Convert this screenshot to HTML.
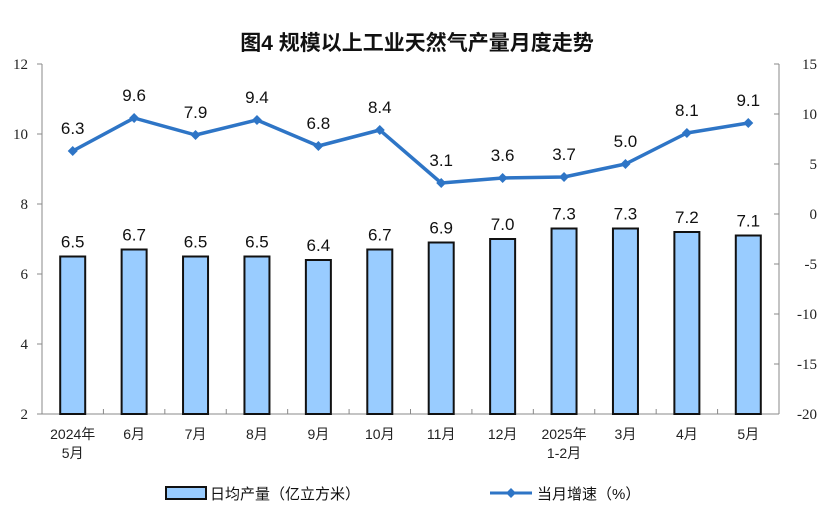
<!DOCTYPE html>
<html><head><meta charset="utf-8"><style>
body{margin:0;background:#fff;width:835px;height:520px;overflow:hidden}
svg text{font-family:"Liberation Sans","Noto Sans CJK SC",sans-serif}
.ax{font-family:"Liberation Serif","Noto Serif CJK SC",serif;font-size:15px;fill:#222}
</style></head><body>
<svg width="835" height="520">
<text x="417" y="50" text-anchor="middle" font-size="21" font-weight="bold" fill="#111">图4  规模以上工业天然气产量月度走势</text>
<g id="g"></g>
<g>
<rect x="166" y="487" width="40" height="12" fill="#99ccff" stroke="#111" stroke-width="2"/>
<text x="210" y="499" font-size="15" fill="#111">日均产量（亿立方米）</text>
<line x1="490" y1="493" x2="532" y2="493" stroke="#2e75c6" stroke-width="3"/>
<path d="M511 488 L516 493 L511 498 L506 493Z" fill="#2e75c6"/>
<text x="537" y="499" font-size="15" fill="#111">当月增速（%）</text>
</g>
</svg>
<script>
const categories=[["2024年","5月"],["6月"],["7月"],["8月"],["9月"],["10月"],["11月"],["12月"],["2025年","1-2月"],["3月"],["4月"],["5月"]];
const output=[6.5,6.7,6.5,6.5,6.4,6.7,6.9,7.0,7.3,7.3,7.2,7.1];
const growth=[6.3,9.6,7.9,9.4,6.8,8.4,3.1,3.6,3.7,5.0,8.1,9.1];
const leftTicks=[2,4,6,8,10,12];
const rightTicks=[-20,-15,-10,-5,0,5,10,15];
const L=42,R=779,T=64,B=414;
const yL=v=>B-(v-2)/(12-2)*(B-T);
const yR=v=>B-(v+20)/(35)*(B-T);
const step=(R-L)/categories.length;
const xc=i=>L+step*(i+0.5);
const g=document.getElementById('g');
const NS='http://www.w3.org/2000/svg';
function mk(t,a,txt){const e=document.createElementNS(NS,t);for(const k in a)e.setAttribute(k,a[k]);if(txt!=null)e.textContent=txt;g.appendChild(e);return e;}
let e;
e=mk('line',{x1:L,y1:T,x2:L,y2:B,stroke:'#888'});


e=mk('line',{x1:R,y1:T,x2:R,y2:B,stroke:'#888'});


e=mk('line',{x1:L,y1:B,x2:R,y2:B,stroke:'#888'});


leftTicks.forEach(v=>{
 mk('line',{x1:L-5,y1:yL(v),x2:L,y2:yL(v),stroke:'#888'});
 e=mk('text',{x:L-14,y:yL(v)+5,'text-anchor':'end',class:'ax'},v);
 
 
});
rightTicks.forEach(v=>{
 mk('line',{x1:R-5,y1:yR(v),x2:R,y2:yR(v),stroke:'#888'});
 e=mk('text',{x:R+38,y:yR(v)+5,'text-anchor':'end',class:'ax'},v);
 
 
});
for(let i=1;i<categories.length;i++)mk('line',{x1:L+step*i,y1:B-5,x2:L+step*i,y2:B,stroke:'#888'});
const bw=25;
output.forEach((v,i)=>{
 e=mk('rect',{x:xc(i)-bw/2,y:yL(v),width:bw,height:B-yL(v),fill:'#99ccff',stroke:'#111','stroke-width':2});
 
 
 e=mk('text',{x:xc(i),y:yL(v)-9,'text-anchor':'middle','font-size':17,fill:'#111'},v.toFixed(1));
 
 
});
categories.forEach((c,i)=>{
 c.forEach((s,j)=>{
  e=mk('text',{x:xc(i),y:B+25+j*19,'text-anchor':'middle','font-size':14,fill:'#222'},s);
  
  
 });
});
e=mk('polyline',{points:growth.map((v,i)=>xc(i)+','+yR(v)).join(' '),fill:'none',stroke:'#2e75c6','stroke-width':3.5,'stroke-linejoin':'round'});


growth.forEach((v,i)=>{
 const x=xc(i),y=yR(v);
 e=mk('path',{d:`M${x} ${y-5}L${x+5} ${y}L${x} ${y+5}L${x-5} ${y}Z`,fill:'#2e75c6'});
 
 
 e=mk('text',{x:x,y:y-17,'text-anchor':'middle','font-size':17,fill:'#111'},v.toFixed(1));
 
 
});
</script>
</body></html>
